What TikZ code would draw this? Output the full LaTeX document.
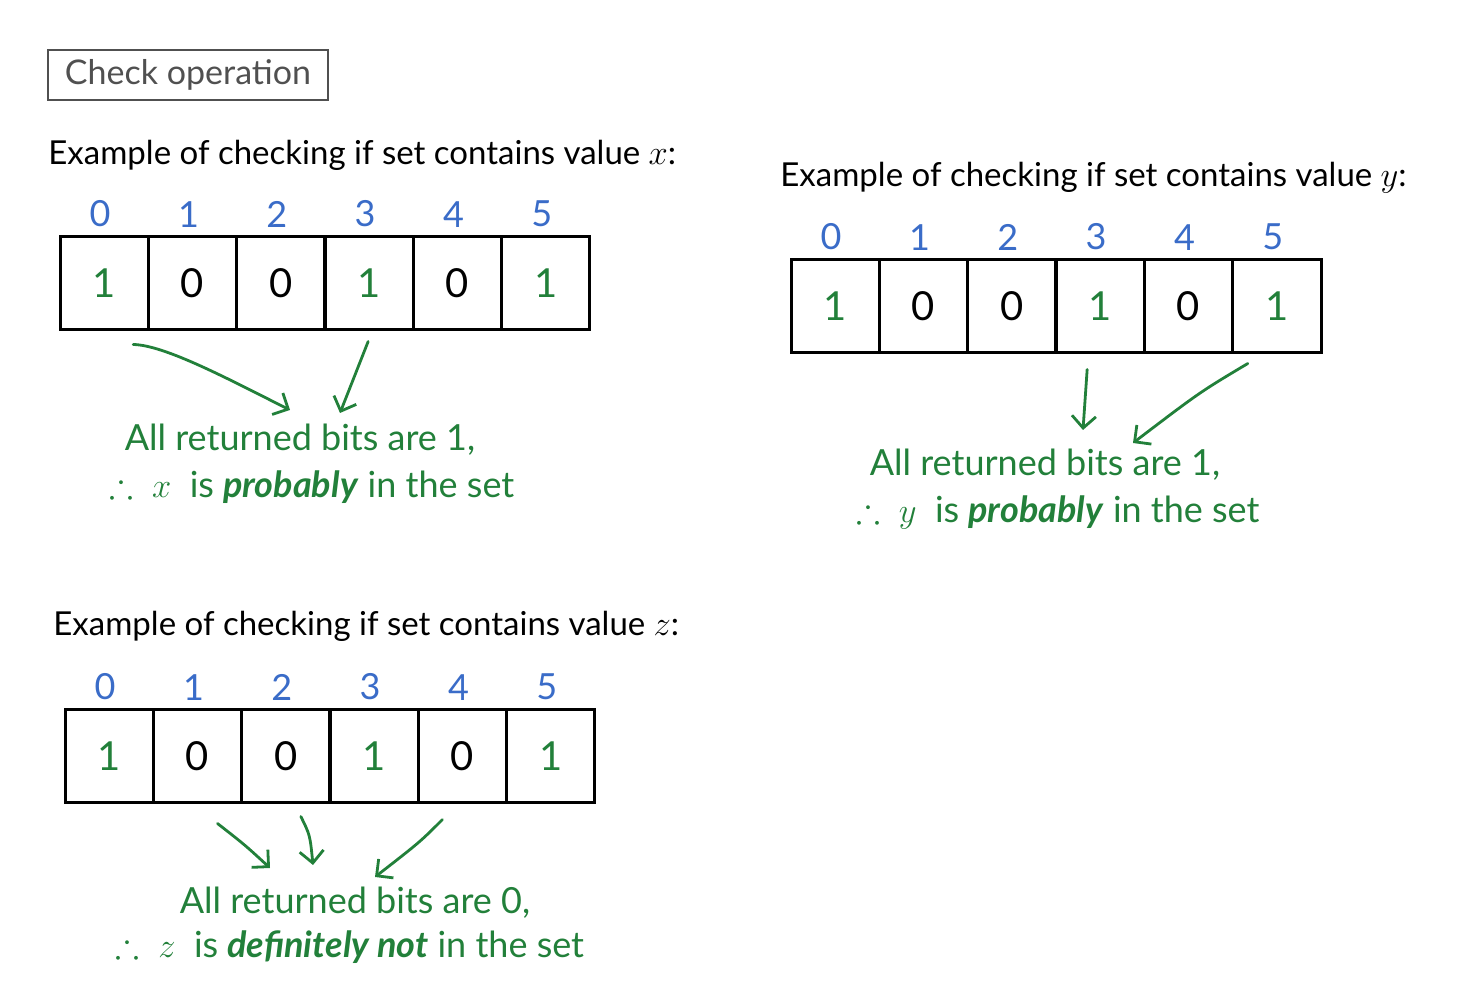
\documentclass[tikz,border=0pt]{standalone}
\usepackage{amsmath,amssymb}
\usepackage{fontspec}
\setmainfont{Lato}
\usetikzlibrary{arrows.meta,positioning,calc}
\definecolor{penGreen}{RGB}{34,128,58}
\definecolor{penBlue}{RGB}{58,108,200}
\definecolor{penGrey}{RGB}{80,80,80}
\tikzset{
  cell/.style={draw, line width=1.5pt, minimum width=44.17pt, minimum height=46.5pt,
    inner sep=0pt, font=\fontsize{20}{24}\selectfont},
  index/.style={text=penBlue, inner sep=1pt, font=\fontsize{18}{20}\selectfont},
  heading/.style={anchor=west, inner sep=0pt, font=\fontsize{16.5}{19}\selectfont},
  verdict/.style={text=penGreen, inner sep=0pt, font=\fontsize{18}{21}\selectfont},
  arr/.style={penGreen, line width=1.4pt, line cap=round,
    -{Straight Barb[length=6pt,width=12pt,line width=1.4pt]}}
}
% one row of six bits: name, left edge, top edge (in px)
\newcommand{\bitrow}[3]{%
  \foreach \v/\c [count=\i from 0] in {1/penGreen,0/black,0/black,1/penGreen,0/black,1/penGreen} {
    \node[cell, text=\c] (#1\i) at ({#2+88.33*\i+44.17},{#3+46.5}) {\v};
    \node[index, above=3pt of #1\i, xshift=-2pt] (#1i\i) {\i};
  }%
}

\begin{document}
\begin{tikzpicture}[x=0.5pt, y=-0.5pt]
    \useasboundingbox (0,0) rectangle (1458,999);

    % Title
    \node[draw=penGrey, line width=1.2pt, text=penGrey, minimum width=140pt, minimum height=25pt,
      font=\fontsize{17}{20}\selectfont] (title) at (188,75) {Check operation};

    % Value x
    \node[heading] (xhead) at (48,155) {Example of checking if set contains value $x$:};
    \bitrow{x}{60}{237}
    \node[verdict] (xres1) at (300,440) {All returned bits are 1,};
    \node[verdict] (xres2) at (312,487) {$\therefore$ \ $x$ \ is \textbf{\textit{probably}} in the set};
    \coordinate (xhitA) at (290,410);
    \coordinate (xhitB) at (340,413);
    \draw[arr] ($(x0.south)+(29,13)$) .. controls (165,345) and (230,380) .. (xhitA);
    \draw[arr] ($(x3.south)+(-1,10)$) -- (xhitB);

    % Value y
    \node[heading] (yhead) at (780,178) {Example of checking if set contains value $y$:};
    \bitrow{y}{791}{260}
    \node[verdict] (yres1) at (1045,465) {All returned bits are 1,};
    \node[verdict] (yres2) at (1058,512) {$\therefore$ \ $y$ \ is \textbf{\textit{probably}} in the set};
    \coordinate (yhitA) at (1083,430);
    \coordinate (yhitB) at (1133,443);
    \draw[arr] ($(y3.south)+(-13,15)$) -- (yhitA);
    \draw[arr] ($(y5.south)+(-29,9)$) .. controls (1200,392) .. (yhitB);

    % Value z
    \node[heading] (zhead) at (53,626) {Example of checking if set contains value $z$:};
    \bitrow{z}{65}{710}
    \node[verdict] (zres1) at (355,903) {All returned bits are 0,};
    \node[verdict] (zres2) at (350,947) {$\therefore$ \ $z$ \ is \textbf{\textit{definitely not}} in the set};
    \coordinate (zhitA) at (270,868);
    \coordinate (zhitB) at (313,865);
    \coordinate (zhitC) at (375,877);
    \draw[arr] ($(z1.south)+(20,19)$) .. controls (245,845) .. (zhitA);
    \draw[arr] ($(z2.south)+(15,12)$) .. controls (310,835) .. (zhitB);
    \draw[arr] ($(z4.south)+(-20,15)$) .. controls (420,842) .. (zhitC);
\end{tikzpicture}
\end{document}
